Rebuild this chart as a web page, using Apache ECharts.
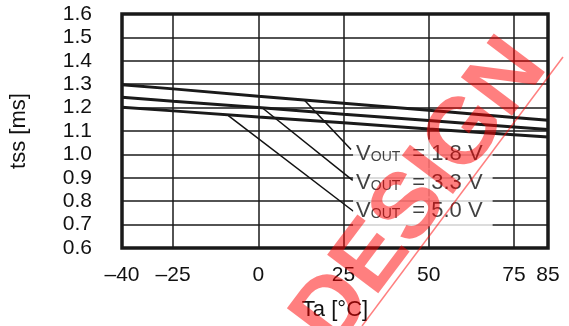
<!DOCTYPE html>
<html><head><meta charset="utf-8">
<script src="https://cdn.jsdelivr.net/npm/echarts@6/dist/echarts.min.js"></script>
<style>html,body{margin:0;padding:0;background:#fff}#c{width:569px;height:326px}</style>
</head><body><div id="c"></div>
<script>
const temps = [-40, -25, 0, 25, 50, 75, 85];
const v18 = [1.298, 1.280, 1.249, 1.219, 1.189, 1.158, 1.146];
const v33 = [1.244, 1.227, 1.200, 1.172, 1.145, 1.117, 1.106];
const v50 = [1.201, 1.186, 1.160, 1.135, 1.109, 1.084, 1.074];
const xTickLabels = [-40, -25, 0, 25, 50, 75, 85];
const xGridLines = [-25, 0, 25, 50, 75];
const labelNames = ['1.8', '3.3', '5.0'];
const labelAnchors = [[27.8, 1.0], [27.8, 0.877], [27.8, 0.757]];
const leaderStarts = [[13.4, 1.234], [1.4, 1.196], [-8.8, 1.166]];
const leaderEnds = [[27.2, 1.021], [27.7, 0.889], [27.9, 0.757]];

const FONT = 'Liberation Sans, Arial, sans-serif';
const chart = echarts.init(document.getElementById('c'), null, {renderer: 'canvas'});
const pair = (xs, ys) => xs.map((x, i) => [x, ys[i]]);
const curve = (name, ys) => ({
  name, type: 'line', data: pair(temps, ys), symbol: 'none', z: 5,
  lineStyle: {color: '#1a1a1a', width: 3}, silent: true
});
chart.setOption({
  animation: false,
  grid: {left: 120, right: 21, top: 14, bottom: 77, show: true, borderColor: '#1a1a1a', borderWidth: 3.5, backgroundColor: 'transparent'},
  xAxis: {
    type: 'value', min: -40, max: 85,
    axisLine: {show: false}, axisTick: {show: false}, splitLine: {show: false},
    axisLabel: {customValues: xTickLabels, margin: 17, fontSize: 21, fontFamily: FONT, color: '#111',
      formatter: v => v < 0 ? '\u2013' + Math.abs(v) : String(v)},
    name: 'Ta [\u00B0C]', nameLocation: 'middle', nameGap: 51,
    nameTextStyle: {fontSize: 22, fontFamily: FONT, color: '#111'}
  },
  yAxis: {
    type: 'value', min: 0.6, max: 1.6, interval: 0.1,
    axisLine: {show: false}, axisTick: {show: false},
    splitLine: {show: true, lineStyle: {color: '#1a1a1a', width: 1.5}},
    axisLabel: {margin: 30, fontSize: 21, fontFamily: FONT, color: '#111', formatter: v => v.toFixed(1)},
    name: 'tss [ms]', nameLocation: 'middle', nameGap: 92, nameRotate: 90,
    nameTextStyle: {fontSize: 22, fontFamily: FONT, color: '#111'}
  },
  series: [
    {
      type: 'line', data: [], z: 1, silent: true,
      markLine: {silent: true, symbol: 'none', label: {show: false}, animation: false,
        lineStyle: {color: '#1a1a1a', width: 1.5, type: 'solid'},
        data: xGridLines.map(v => ({xAxis: v}))}
    },
    curve('1.8 V', v18),
    curve('3.3 V', v33),
    curve('5.0 V', v50),
    {
      type: 'line', data: [], z: 6, silent: true,
      markLine: {silent: true, symbol: 'none', label: {show: false}, animation: false,
        lineStyle: {color: '#111', width: 1.5, type: 'solid'},
        data: leaderStarts.map((s, i) => [{coord: s}, {coord: leaderEnds[i]}])}
    },
    {
      type: 'scatter', z: 10, symbolSize: 0, silent: true,
      data: labelAnchors.map((p, i) => ({value: p, name: labelNames[i]})),
      label: {
        show: true, position: 'right', distance: 0,
        backgroundColor: '#fff', padding: [2, 10, 2, 3],
        formatter: p => '{v|V}{o|OUT}{r|= ' + p.name + ' V}',
        rich: {
          v: {fontSize: 22, fontFamily: FONT, color: '#111', lineHeight: 26},
          o: {fontSize: 14, fontFamily: FONT, color: '#111', lineHeight: 26, padding: [5, 0, 0, 0]},
          r: {fontSize: 22, fontFamily: FONT, color: '#111', lineHeight: 26, padding: [0, 0, 0, 12]}
        }
      }
    }
  ],
  graphic: [
    {type: 'text', x: 421, y: 194, rotation: 53 * Math.PI / 180, z: 100, silent: true,
      style: {text: 'DESIGN', align: 'center', verticalAlign: 'middle', fontSize: 93, fontWeight: 'bold',
        fontFamily: FONT, fill: 'rgba(255,0,0,0.5)'}},
    {type: 'line', z: 100, silent: true, shape: {x1: 362, y1: 326, x2: 563, y2: 57},
      style: {stroke: 'rgba(255,0,0,0.5)', lineWidth: 1.5}}
  ]
});
</script></body></html>
